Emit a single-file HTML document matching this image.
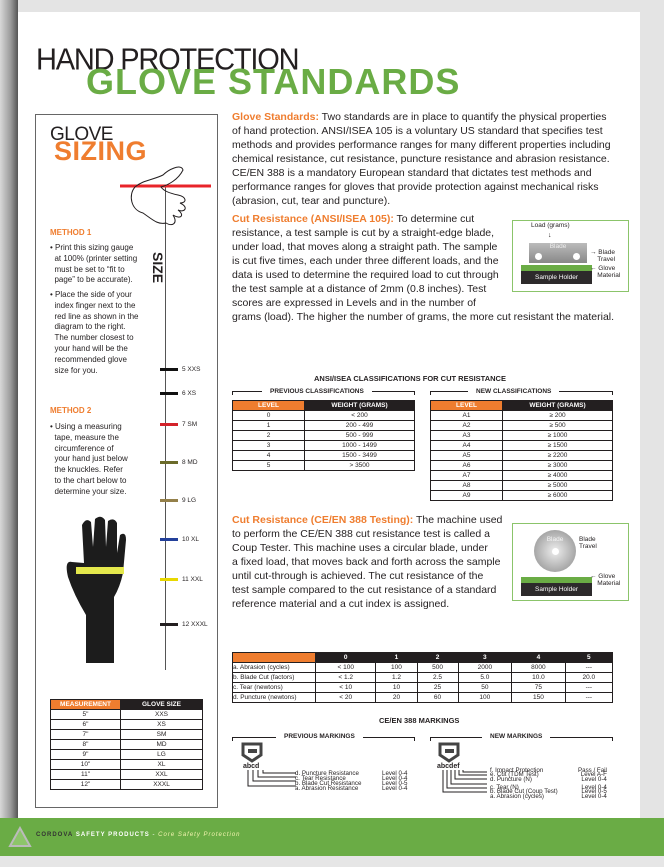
<!DOCTYPE html>
<html><head><meta charset="utf-8"><style>
*{margin:0;padding:0;box-sizing:border-box}
body{width:664px;height:867px;overflow:hidden;position:relative;background:#e4e4e4;font-family:"Liberation Sans",sans-serif;color:#231f20}
.a{position:absolute;white-space:nowrap}
.p{font-size:10.5px;line-height:14px}
.o{color:#ef7d2f;font-weight:bold}
table{border-collapse:collapse;position:absolute;font-size:6.5px;text-align:center}
td,th{border:1px solid #231f20;padding:0;height:10px;line-height:8px}
th{background:#231f20;color:#fff;font-weight:bold}
th.or{background:#ef7d2f}
.tk{position:absolute;left:160px;width:18px;height:3px}
.tl{position:absolute;left:182px;font-size:6.5px}
.sm{font-size:6.2px;line-height:5px}
</style></head><body>
<div class="a" style="left:0;top:0;width:18px;height:867px;background:linear-gradient(90deg,#d8d8d8,#9a9a9a 60%,#555)"></div>
<div class="a" style="left:18px;top:12px;width:622px;height:806px;background:#fff"></div>
<div class="a" style="left:0;top:818px;width:664px;height:38px;background:#6aac45"></div>
<div class="a" style="left:0;top:856px;width:664px;height:11px;background:#e6e6e6"></div>

<div class="a" style="left:36px;top:44px;font-size:29px;letter-spacing:-1.2px;transform:scaleY(1.05)">HAND PROTECTION</div>
<div class="a" style="left:86px;top:61px;font-size:36px;font-weight:bold;color:#6aac45;letter-spacing:1px">GLOVE STANDARDS</div>

<!-- sizing box -->
<div class="a" style="left:35px;top:114px;width:183px;height:694px;border:1px solid #666"></div>
<div class="a" style="left:50px;top:124px;font-size:19px;letter-spacing:-0.5px">GLOVE</div>
<div class="a" style="left:54px;top:136px;font-size:27px;font-weight:bold;color:#ef7d2f;letter-spacing:0.5px">SIZING</div>
<div class="a" style="left:165px;top:186px;width:1px;height:484px;background:#555"></div>
<svg class="a" style="left:120px;top:160px" width="95" height="75"><path d="M0 26 L91 26" stroke="#e8242a" stroke-width="3"/><path d="M15 27 C8 35 11 50 23 53 C33 60 38 65 46 63 C53 67 58 63 53 55 C61 60 65 55 58 50 C65 53 69 47 60 43 C67 43 67 37 58 35 C48 33 43 30 41 27 C48 25 58 20 63 10 C61 3 48 10 43 15 C33 20 23 20 15 27Z" fill="none" stroke="#231f20" stroke-width="1"/></svg>
<div class="a" style="left:166px;top:252px;font-size:14px;font-weight:bold;transform:rotate(90deg);transform-origin:0 0">SIZE</div>
<div class="a" style="left:50px;top:228px;font-size:8px;font-weight:bold;color:#ef7d2f">METHOD 1</div>
<div class="a" style="left:50px;top:243px;font-size:8px;line-height:10.8px">• Print this sizing gauge<br>&nbsp;&nbsp;at 100% (printer setting<br>&nbsp;&nbsp;must be set to “fit to<br>&nbsp;&nbsp;page” to be accurate).</div>
<div class="a" style="left:50px;top:290px;font-size:8px;line-height:10.8px">• Place the side of your<br>&nbsp;&nbsp;index finger next to the<br>&nbsp;&nbsp;red line as shown in the<br>&nbsp;&nbsp;diagram to the right.<br>&nbsp;&nbsp;The number closest to<br>&nbsp;&nbsp;your hand will be the<br>&nbsp;&nbsp;recommended glove<br>&nbsp;&nbsp;size for you.</div>
<div class="a" style="left:50px;top:406px;font-size:8px;font-weight:bold;color:#ef7d2f">METHOD 2</div>
<div class="a" style="left:50px;top:422px;font-size:8px;line-height:10.8px">• Using a measuring<br>&nbsp;&nbsp;tape, measure the<br>&nbsp;&nbsp;circumference of<br>&nbsp;&nbsp;your hand just below<br>&nbsp;&nbsp;the knuckles. Refer<br>&nbsp;&nbsp;to the chart below to<br>&nbsp;&nbsp;determine your size.</div>
<div class="tk" style="top:368px;background:#111"></div><div class="tl" style="top:366px">5 XXS</div>
<div class="tk" style="top:392px;background:#111"></div><div class="tl" style="top:390px">6 XS</div>
<div class="tk" style="top:423px;background:#d3222a"></div><div class="tl" style="top:421px">7 SM</div>
<div class="tk" style="top:461px;background:#6b6b2a"></div><div class="tl" style="top:459px">8 MD</div>
<div class="tk" style="top:499px;background:#94804a"></div><div class="tl" style="top:497px">9 LG</div>
<div class="tk" style="top:538px;background:#23409a"></div><div class="tl" style="top:536px">10 XL</div>
<div class="tk" style="top:578px;background:#e8d800"></div><div class="tl" style="top:576px">11 XXL</div>
<div class="tk" style="top:623px;background:#231f20"></div><div class="tl" style="top:621px">12 XXXL</div>
<!-- glove -->
<svg class="a" style="left:62px;top:515px" width="70" height="150" viewBox="0 0 70 150"><path d="M22 48 L20 10 Q24 2 29 7 L31 32 L33 4 Q39 -1 43 5 L44 32 L46 6 Q52 2 55 8 L55 38 L58 20 Q64 16 64 25 L61 58 Q58 72 52 82 L52 148 L24 148 L24 100 Q12 80 6 62 Q2 45 10 47 Z" fill="#1c1c1c"/><rect x="14" y="52" width="48" height="7" fill="#e4e84c"/></svg>

<table style="left:50px;top:699px;width:153px"><tr><th class="or" style="width:70px">MEASUREMENT</th><th>GLOVE SIZE</th></tr>
<tr><td>5"</td><td>XXS</td></tr><tr><td>6"</td><td>XS</td></tr><tr><td>7"</td><td>SM</td></tr><tr><td>8"</td><td>MD</td></tr><tr><td>9"</td><td>LG</td></tr><tr><td>10"</td><td>XL</td></tr><tr><td>11"</td><td>XXL</td></tr><tr><td>12"</td><td>XXXL</td></tr></table>

<!-- text -->
<div class="a p" style="left:232px;top:110px"><span class="o">Glove Standards:</span> Two standards are in place to quantify the physical properties<br>of hand protection. ANSI/ISEA 105 is a voluntary US standard that specifies test<br>methods and provides performance ranges for many different properties including<br>chemical resistance, cut resistance, puncture resistance and abrasion resistance.<br>CE/EN 388 is a mandatory European standard that dictates test methods and<br>performance ranges for gloves that provide protection against mechanical risks<br>(abrasion, cut, tear and puncture).</div>
<div class="a p" style="left:232px;top:212px"><span class="o">Cut Resistance (ANSI/ISEA 105):</span> To determine cut<br>resistance, a test sample is cut by a straight-edge blade,<br>under load, that moves along a straight path. The sample<br>is cut five times, each under three different loads, and the<br>data is used to determine the required load to cut through<br>the test sample at a distance of 2mm (0.8 inches). Test<br>scores are expressed in Levels and in the number of<br>grams (load). The higher the number of grams, the more cut resistant the material.</div>
<div class="a" style="left:512px;top:220px;width:117px;height:72px;border:1px solid #8bc46a"></div>
<div class="a" style="left:531px;top:222px;font-size:6.5px">Load (grams)</div>
<div class="a" style="left:548px;top:232px;font-size:7px">↓</div>
<div class="a" style="left:529px;top:243px;width:58px;height:20px;background:linear-gradient(#bbb,#888);color:#eee;font-size:6.5px;text-align:center">Blade</div>
<div class="a" style="left:535px;top:253px;width:7px;height:7px;border-radius:50%;background:#fff"></div>
<div class="a" style="left:573px;top:253px;width:7px;height:7px;border-radius:50%;background:#fff"></div>
<div class="a" style="left:590px;top:249px;font-size:6.5px;line-height:7px">→ Blade<br>&nbsp;&nbsp;&nbsp;&nbsp;Travel</div>
<div class="a" style="left:521px;top:265px;width:71px;height:6px;background:#6aac45"></div>
<div class="a" style="left:521px;top:271px;width:71px;height:13px;background:#2d2a2b;color:#fff;font-size:6.5px;line-height:13px;text-align:center">Sample Holder</div>
<div class="a" style="left:590px;top:265px;font-size:6.5px;line-height:7px">← Glove<br>&nbsp;&nbsp;&nbsp;&nbsp;Material</div>

<div class="a" style="left:314px;top:374px;font-size:7.5px;font-weight:bold">ANSI/ISEA CLASSIFICATIONS FOR CUT RESISTANCE</div>
<div class="a" style="left:232px;top:391px;width:183px;height:4px;border:1px solid #231f20;border-bottom:0"></div>
<div class="a" style="left:262px;top:388px;background:#fff;padding:0 8px;font-size:6.5px;font-weight:bold">PREVIOUS CLASSIFICATIONS</div>
<div class="a" style="left:430px;top:391px;width:183px;height:4px;border:1px solid #231f20;border-bottom:0"></div>
<div class="a" style="left:468px;top:388px;background:#fff;padding:0 8px;font-size:6.5px;font-weight:bold">NEW CLASSIFICATIONS</div>
<table style="left:232px;top:400px;width:183px"><tr><th class="or" style="width:72px">LEVEL</th><th>WEIGHT (GRAMS)</th></tr>
<tr><td>0</td><td>&lt; 200</td></tr><tr><td>1</td><td>200 - 499</td></tr><tr><td>2</td><td>500 - 999</td></tr><tr><td>3</td><td>1000 - 1499</td></tr><tr><td>4</td><td>1500 - 3499</td></tr><tr><td>5</td><td>&gt; 3500</td></tr></table>
<table style="left:430px;top:400px;width:183px"><tr><th class="or" style="width:72px">LEVEL</th><th>WEIGHT (GRAMS)</th></tr>
<tr><td>A1</td><td>≥ 200</td></tr><tr><td>A2</td><td>≥ 500</td></tr><tr><td>A3</td><td>≥ 1000</td></tr><tr><td>A4</td><td>≥ 1500</td></tr><tr><td>A5</td><td>≥ 2200</td></tr><tr><td>A6</td><td>≥ 3000</td></tr><tr><td>A7</td><td>≥ 4000</td></tr><tr><td>A8</td><td>≥ 5000</td></tr><tr><td>A9</td><td>≥ 6000</td></tr></table>

<div class="a p" style="left:232px;top:513px"><span class="o">Cut Resistance (CE/EN 388 Testing):</span> The machine used<br>to perform the CE/EN 388 cut resistance test is called a<br>Coup Tester. This machine uses a circular blade, under<br>a fixed load, that moves back and forth across the sample<br>until cut-through is achieved. The cut resistance of the<br>test sample compared to the cut resistance of a standard<br>reference material and a cut index is assigned.</div>
<div class="a" style="left:512px;top:523px;width:117px;height:78px;border:1px solid #8bc46a"></div>
<div class="a" style="left:534px;top:530px;width:42px;height:42px;border-radius:50%;background:radial-gradient(#eee,#888);color:#f4f4f4;font-size:6.5px;text-align:center;padding-top:6px">Blade</div>
<div class="a" style="left:552px;top:548px;width:7px;height:7px;border-radius:50%;background:#fff"></div>
<div class="a" style="left:579px;top:536px;font-size:6.5px;line-height:7px">Blade<br>Travel</div>
<div class="a" style="left:521px;top:577px;width:71px;height:6px;background:#6aac45"></div>
<div class="a" style="left:521px;top:583px;width:71px;height:13px;background:#2d2a2b;color:#fff;font-size:6.5px;line-height:13px;text-align:center">Sample Holder</div>
<div class="a" style="left:590px;top:573px;font-size:6.5px;line-height:7px">← Glove<br>&nbsp;&nbsp;&nbsp;&nbsp;Material</div>

<table style="left:232px;top:652px;width:381px;text-align:center"><tr><th class="or" style="width:83px"></th><th>0</th><th>1</th><th>2</th><th>3</th><th>4</th><th>5</th></tr>
<tr><td style="text-align:left">a. Abrasion (cycles)</td><td>&lt; 100</td><td>100</td><td>500</td><td>2000</td><td>8000</td><td>---</td></tr>
<tr><td style="text-align:left">b. Blade Cut (factors)</td><td>&lt; 1.2</td><td>1.2</td><td>2.5</td><td>5.0</td><td>10.0</td><td>20.0</td></tr>
<tr><td style="text-align:left">c. Tear (newtons)</td><td>&lt; 10</td><td>10</td><td>25</td><td>50</td><td>75</td><td>---</td></tr>
<tr><td style="text-align:left">d. Puncture (newtons)</td><td>&lt; 20</td><td>20</td><td>60</td><td>100</td><td>150</td><td>---</td></tr></table>

<div class="a" style="left:379px;top:716px;font-size:7.5px;font-weight:bold">CE/EN 388 MARKINGS</div>
<div class="a" style="left:232px;top:737px;width:183px;height:4px;border:1px solid #231f20;border-bottom:0"></div>
<div class="a" style="left:276px;top:733px;background:#fff;padding:0 8px;font-size:6.5px;font-weight:bold">PREVIOUS MARKINGS</div>
<div class="a" style="left:430px;top:737px;width:183px;height:4px;border:1px solid #231f20;border-bottom:0"></div>
<div class="a" style="left:482px;top:733px;background:#fff;padding:0 8px;font-size:6.5px;font-weight:bold">NEW MARKINGS</div>
<svg class="a" style="left:240px;top:741px" width="24" height="24"><path d="M3 3 H21 V14 L12 20 L3 14Z" fill="none" stroke="#444" stroke-width="3"/><rect x="8" y="8" width="9" height="4" fill="#444"/></svg>
<svg class="a" style="left:437px;top:741px" width="24" height="24"><path d="M3 3 H21 V14 L12 20 L3 14Z" fill="none" stroke="#444" stroke-width="3"/><rect x="8" y="8" width="9" height="4" fill="#444"/></svg>
<div class="a" style="left:243px;top:763px;font-size:7px;font-weight:bold">abcd</div>
<div class="a" style="left:437px;top:763px;font-size:7px;font-weight:bold">abcdef</div>
<svg class="a" style="left:240px;top:770px" width="60" height="24" fill="none" stroke="#231f20" stroke-width="1"><path d="M23 0 V3 H56 M18 0 V7 H56 M13 0 V11 H56 M8 0 V16 H56"/></svg>
<svg class="a" style="left:437px;top:770px" width="55" height="25" fill="none" stroke="#231f20" stroke-width="1"><path d="M26 0 V2 H50 M22 0 V5 H50 M18 0 V9 H50 M14 0 V14 H50 M10 0 V18 H50 M6 0 V22 H50"/></svg>
<div class="a sm" style="left:295px;top:771px">d. Puncture Resistance<br>c. Tear Resistance<br>b. Blade Cut Resistance<br>a. Abrasion Resistance</div>
<div class="a sm" style="left:382px;top:771px">Level 0-4<br>Level 0-4<br>Level 0-5<br>Level 0-4</div>
<div class="a sm" style="left:490px;top:769px;line-height:4.3px">f. Impact Protection<br>e. Cut (TDM Test)<br>d. Puncture (N)<br><br>c. Tear (N)<br>b. Blade Cut (Coup Test)<br>a. Abrasion (cycles)</div>
<div class="a sm" style="left:578px;top:769px;line-height:4.3px;text-align:right">Pass / Fail<br>Level A-F<br>Level 0-4<br><br>Level 0-4<br>Level 0-5<br>Level 0-4</div>

<!-- footer -->
<svg class="a" style="left:8px;top:826px" width="24" height="22"><path d="M12 2 L22 20 H2Z" fill="#8dc56a" stroke="#bbb" stroke-width="2"/></svg>
<div class="a" style="left:36px;top:832px;font-size:6px;letter-spacing:1px;color:#fff"><b style="color:#333">CORDOVA</b> <b>SAFETY PRODUCTS</b> - <i style="color:#f4f4b0">Core Safety Protection</i></div>
</body></html>
